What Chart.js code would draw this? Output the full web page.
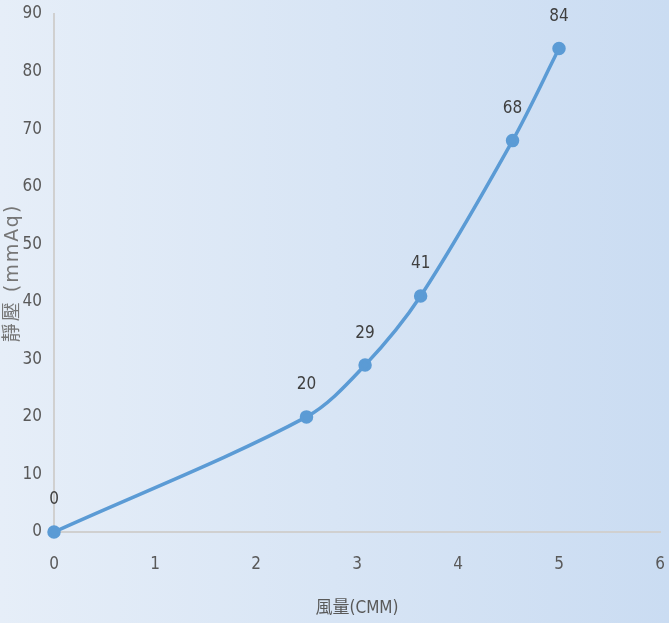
<!DOCTYPE html>
<html><head><meta charset="utf-8">
<script src="https://cdn.jsdelivr.net/npm/chart.js@4/dist/chart.umd.min.js"></script>
<style>html,body{margin:0;padding:0;background:#dfe9f6}#wrap{width:669px;height:623px}</style>
</head><body><div id="wrap"><canvas id="c" width="669" height="623"></canvas></div>
<script>
const airflow = [0, 2.5, 3.08, 3.63, 4.54, 5.0];
const pressure = [0, 20, 29, 41, 68, 84];
const xTicks = [0, 1, 2, 3, 4, 5, 6];
const yTicks = [0, 10, 20, 30, 40, 50, 60, 70, 80, 90];
const yTitle = '靜壓 (mmAq)';
const xTitle = '風量(CMM)';
const FONT = "'Liberation Sans Narrow','DejaVu Sans Condensed','Noto Sans CJK TC',sans-serif";

const bgPlugin = {
  id: 'bg',
  beforeDraw(chart) {
    const {ctx, width, height} = chart;
    const g = ctx.createLinearGradient(0, 0, width, 0);
    g.addColorStop(0, '#e6eef8');
    g.addColorStop(1, '#cadcf2');
    ctx.save(); ctx.fillStyle = g; ctx.fillRect(0, 0, width, height); ctx.restore();
  }
};
const labelPlugin = {
  id: 'lbl',
  afterDatasetsDraw(chart) {
    const {ctx, chartArea} = chart;
    const meta = chart.getDatasetMeta(0);
    ctx.save();
    ctx.font = "17px " + FONT;
    ctx.fillStyle = '#404040';
    ctx.textAlign = 'center'; ctx.textBaseline = 'middle';
    meta.data.forEach((p, i) => ctx.fillText(String(pressure[i]), p.x, p.y - 32));
    ctx.restore();
    ctx.save();
    ctx.translate(13, (chartArea.top + chartArea.bottom) / 2);
    ctx.rotate(-Math.PI / 2);
    ctx.font = "19px 'DejaVu Sans','Noto Sans CJK TC',sans-serif";
    if ('letterSpacing' in ctx) ctx.letterSpacing = '2px';
    ctx.fillStyle = '#767676';
    ctx.textAlign = 'center'; ctx.textBaseline = 'middle';
    ctx.fillText(yTitle, 0, 0);
    ctx.restore();
  }
};

new Chart(document.getElementById('c'), {
  type: 'scatter',
  data: { datasets: [{
    data: airflow.map((x, i) => ({x, y: pressure[i]})),
    showLine: true, tension: 0.32, clip: false,
    borderColor: '#5b9bd5', backgroundColor: '#5b9bd5',
    borderWidth: 3.5, pointRadius: 5, pointHoverRadius: 5
  }]},
  options: {
    responsive: false, animation: false,
    layout: { padding: { top: 14, right: 9, left: 0, bottom: 0 } },
    plugins: { legend: { display: false }, tooltip: { enabled: false } },
    scales: {
      x: {
        type: 'linear', min: 0, max: 6,
        afterFit(s) { s.height = 91; s.paddingLeft = 0; s.paddingRight = 0; },
        afterBuildTicks(s) { s.ticks = xTicks.map(v => ({value: v})); },
        grid: { display: false, drawTicks: false },
        border: { display: true, color: '#d0d0d0', width: 2 },
        ticks: { padding: 22, color: '#595959', font: { family: FONT, size: 17 } },
        title: { display: true, text: xTitle, color: '#595959', padding: { top: 6 }, font: { family: FONT, size: 17 } }
      },
      y: {
        type: 'linear', min: 0, max: 90,
        afterFit(s) { s.width = 54; s.paddingTop = 0; s.paddingBottom = 0; },
        afterBuildTicks(s) { s.ticks = yTicks.map(v => ({value: v})); },
        grid: { display: false, drawTicks: false },
        border: { display: true, color: '#d0d0d0', width: 2 },
        ticks: { padding: 12, color: '#595959', font: { family: FONT, size: 17 } },
        title: { display: false }
      }
    }
  },
  plugins: [bgPlugin, labelPlugin]
});
</script></body></html>
